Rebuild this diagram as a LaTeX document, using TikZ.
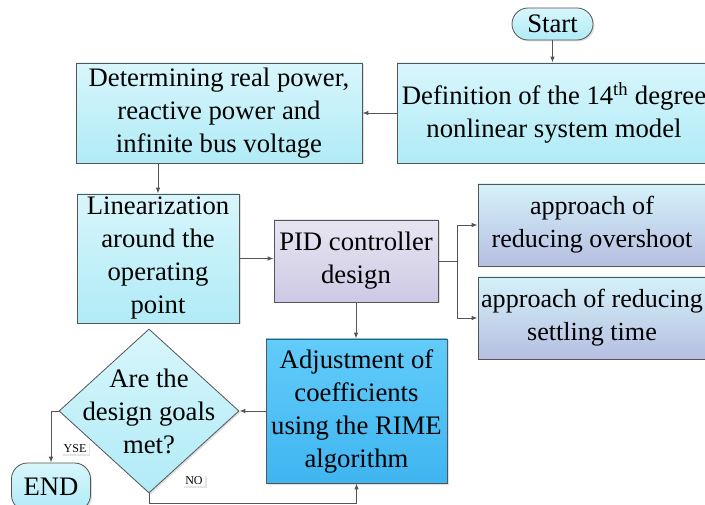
\documentclass[tikz,border=0pt]{standalone}
\usepackage{fontspec}
\setmainfont{Liberation Serif}
\usetikzlibrary{shapes.geometric,shadows,arrows.meta}
\definecolor{edgec}{HTML}{555555}
\definecolor{cyanT}{HTML}{D8F6FB}
\definecolor{cyanB}{HTML}{B0EBF7}
\definecolor{purT}{HTML}{E8E5F2}
\definecolor{purB}{HTML}{CDC9E4}
\definecolor{lavT}{HTML}{D4F2F9}
\definecolor{lavB}{HTML}{B6BEE1}
\definecolor{blueT}{HTML}{62CCFA}
\definecolor{blueB}{HTML}{3FB5F1}
\newcommand{\bigtxt}{\fontsize{26.7}{33}\selectfont}
\newcommand{\midtxt}{\fontsize{26.1}{33}\selectfont}
\tikzset{
  shad/.style={drop shadow={shadow xshift=1.5pt,shadow yshift=-1.5pt,opacity=0.25}},
  basebox/.style={draw=edgec,line width=0.8pt,inner sep=0pt,align=center,font=\bigtxt,shad},
  cyanbox/.style={basebox,top color=cyanT,bottom color=cyanB},
  purbox/.style={basebox,top color=purT,bottom color=purB},
  lavbox/.style={basebox,top color=lavT,bottom color=lavB},
  bluebox/.style={basebox,top color=blueT,bottom color=blueB},
  termbox/.style={cyanbox,rounded corners=16pt},
  txt/.style={inner sep=0pt,align=center,font=\bigtxt},
  lbl/.style={fill=white,inner xsep=2.5pt,inner ysep=1.5pt,font=\fontsize{12}{13}\selectfont,
    drop shadow={shadow xshift=1.5pt,shadow yshift=-1.5pt,opacity=0.2}},
  arr/.style={draw=edgec,line width=0.9pt,-{Latex[length=6pt,width=4.5pt]}},
  ln/.style={draw=edgec,line width=0.9pt}
}
\begin{document}
\begin{tikzpicture}[x=1pt,y=-1pt]
\clip (0,0) rectangle (705,505);
\fill[white] (0,0) rectangle (705,505);
% nodes
\node[termbox,minimum width=81pt,minimum height=32pt] (start) at (552.5,24) {Start};
\node[cyanbox,minimum width=314pt,minimum height=100pt] (def) at (554,113) {};
\node[txt] (deftxt) at (def.center) {Definition of the 14\textsuperscript{th} degree\\nonlinear system model};
\node[cyanbox,minimum width=286pt,minimum height=100pt] (det) at (219,113) {Determining real power,\\reactive power and\\infinite bus voltage};
\node[cyanbox,minimum width=162pt,minimum height=129pt] (lin) at (158,258.5) {Linearization\\around the\\operating\\point};
\node[purbox,minimum width=164pt,minimum height=82pt] (pid) at (356,261) {PID controller\\design};
\node[lavbox,minimum width=232pt,minimum height=82pt] (ov) at (594,225) {};
\node[txt,font=\midtxt] (ovtxt) at (592,225) {approach of\\reducing overshoot};
\node[lavbox,minimum width=232pt,minimum height=82pt] (st) at (594,318) {};
\node[txt,font=\midtxt] (sttxt) at (592,318) {approach of reducing\\settling time};
\node[bluebox,minimum width=181pt,minimum height=144pt] (adj) at (356.5,411) {Adjustment of\\coefficients\\using the RIME\\algorithm};
\node[cyanbox,diamond,minimum width=180pt,minimum height=164pt] (dia) at (149,411) {};
\node[txt] (diatxt) at (dia.center) {Are the\\design goals\\met?};
\node[termbox,minimum width=79pt,minimum height=48pt] (end) at (51,487) {END};
% connectors
\draw[arr] (start.south) -- (start.south |- def.north);
\draw[arr] (def.west) -- (det.east);
\draw[arr] (lin.north |- det.south) -- (lin.north);
\draw[arr] (lin.east) -- (lin.east -| pid.west);
\coordinate (sp) at (457,261);
\draw[ln] (pid.east) -- (sp);
\draw[arr] (sp) |- (ov.west);
\draw[arr] (sp) |- (st.west);
\draw[arr] (pid.south) -- (pid.south |- adj.north);
\draw[arr] (adj.west) -- (dia.east);
\draw[arr] (dia.west) -| (end.north);
\coordinate (nob) at (149,503);
\draw[arr] (dia.south) -- (nob) -| (adj.south);
% labels
\node[lbl] (yse) at (75,448.5) {YSE};
\node[lbl] (no) at (194,480.5) {NO};
\end{tikzpicture}
\end{document}
